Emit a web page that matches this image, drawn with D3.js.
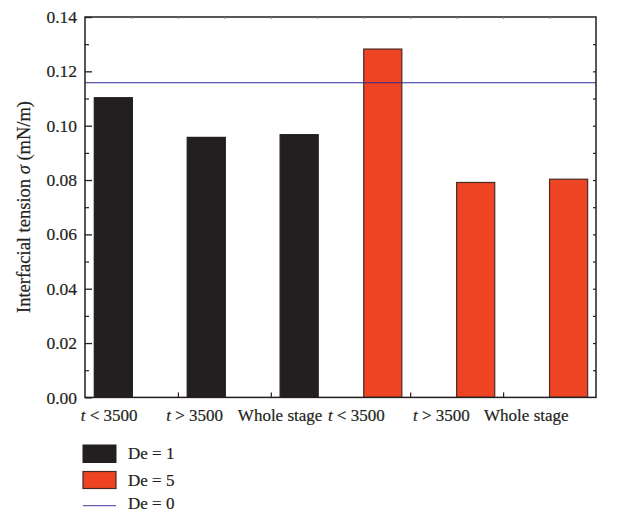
<!DOCTYPE html>
<html>
<head>
<meta charset="utf-8">
<script src="https://cdn.jsdelivr.net/npm/d3@7"></script>
<style>
  html, body { margin: 0; padding: 0; background: #fff; }
  svg { display: block; }
  text { font-family: "Liberation Serif", "Times New Roman", serif; fill: #231f20; }
</style>
</head>
<body>
<svg id="chart" width="629" height="514"></svg>
<script>
// ---- data ----
const stages = ["t < 3500", "t > 3500", "Whole stage"];
const categories = ["t < 3500", "t > 3500", "Whole stage", "t < 3500", "t > 3500", "Whole stage"];
const seriesNames = ["De = 1", "De = 5", "De = 0"];
const de1Values = [0.1103, 0.0957, 0.0967];
const de5Values = [0.1282, 0.0791, 0.0803];
const de0Value = 0.1158;
const yTicks = [0, 0.02, 0.04, 0.06, 0.08, 0.10, 0.12, 0.14];

(function () {
// ---- layout ----
const svg = d3.select("#chart");
const mLeft = 85, mRight = 596, mTop = 17, mBottom = 397.4;
const ink = "#231f20";
const colBlack = "#231f20", colRed = "#ef4423", colLine = "#2e2a90";

const x = d3.scaleLinear().domain([0, 11]).range([mLeft, mRight]);
const y = d3.scaleLinear().domain([0, 0.14]).range([mBottom, mTop]);

// bar positions (x units)
const barW = 0.82;
const bars = [];
de1Values.forEach((v, i) => bars.push({v, c: 0.61 + 2 * i, fill: colBlack, stroke: colBlack}));
de5Values.forEach((v, i) => bars.push({v, c: 6.41 + 2 * i, fill: colRed, stroke: "#4a2a26"}));

svg.append("g").selectAll("rect").data(bars).join("rect")
  .attr("x", d => x(d.c - barW / 2))
  .attr("width", d => x(d.c + barW / 2) - x(d.c - barW / 2))
  .attr("y", d => y(d.v))
  .attr("height", d => y(0) - y(d.v))
  .attr("fill", d => d.fill)
  .attr("stroke", d => d.stroke)
  .attr("stroke-width", 1.2);

// De = 0 reference line
svg.append("line")
  .attr("x1", x(0)).attr("x2", x(11))
  .attr("y1", y(de0Value)).attr("y2", y(de0Value))
  .attr("stroke", colLine).attr("stroke-width", 1.2);

// frame
svg.append("rect")
  .attr("x", mLeft).attr("y", mTop)
  .attr("width", mRight - mLeft).attr("height", mBottom - mTop)
  .attr("fill", "none").attr("stroke", ink).attr("stroke-width", 1.5);

// left axis (ticks inward)
const yMinor = d3.range(0.01, 0.14, 0.02);
const leftAxis = svg.append("g").attr("transform", `translate(${mLeft},0)`)
  .call(d3.axisRight(y).tickValues(yTicks).tickSize(7).tickFormat(""));
leftAxis.select(".domain").remove();
leftAxis.selectAll("line").attr("stroke", ink).attr("stroke-width", 1.3);
const leftMinor = svg.append("g").attr("transform", `translate(${mLeft},0)`)
  .call(d3.axisRight(y).tickValues(yMinor).tickSize(4).tickFormat(""));
leftMinor.select(".domain").remove();
leftMinor.selectAll("line").attr("stroke", ink).attr("stroke-width", 1.2);

// right axis (ticks inward)
const rightAxis = svg.append("g").attr("transform", `translate(${mRight},0)`)
  .call(d3.axisLeft(y).tickValues(d3.range(0.01, 0.14, 0.01)).tickSize(3).tickFormat(""));
rightAxis.select(".domain").remove();
rightAxis.selectAll("line").attr("stroke", ink).attr("stroke-width", 1.2);

// y tick labels
svg.append("g").selectAll("text").data(yTicks).join("text")
  .attr("x", 77).attr("y", d => y(d)).attr("dy", "0.35em")
  .attr("text-anchor", "end").attr("font-size", 17.5)
  .attr("stroke", "#231f20").attr("stroke-width", 0.2)
  .text(d => d.toFixed(2));

// top ticks (small, inward)
const topAxis = svg.append("g").attr("transform", `translate(0,${mTop})`)
  .call(d3.axisBottom(x).tickValues(d3.range(1, 11)).tickSize(2).tickFormat(""));
topAxis.select(".domain").remove();
topAxis.selectAll("line").attr("stroke", "#888").attr("stroke-width", 1);

// bottom ticks (inward)
const bottomAxis = svg.append("g").attr("transform", `translate(0,${mBottom})`)
  .call(d3.axisTop(x).tickValues([2, 4, 7, 9]).tickSize(5).tickFormat(""));
bottomAxis.select(".domain").remove();
bottomAxis.selectAll("line").attr("stroke", ink).attr("stroke-width", 1.2);

// x category labels
const labelPos = categories.map((c, i) => i < 3 ? 0.52 + 1.84 * i : 5.84 + 1.83 * (i - 3));
const xl = svg.append("g").selectAll("text").data(categories).join("text")
  .attr("x", (d, i) => x(labelPos[i])).attr("y", 420.5)
  .attr("text-anchor", "middle").attr("font-size", 17)
  .attr("stroke", "#231f20").attr("stroke-width", 0.2);
xl.each(function(d) {
  const t = d3.select(this);
  if (d.startsWith("t ")) {
    t.append("tspan").attr("font-style", "italic").text("t");
    t.append("tspan").text(d.slice(1));
  } else {
    t.text(d);
  }
});

// y axis title
const yt = svg.append("text")
  .attr("transform", "translate(30,207) rotate(-90)")
  .attr("text-anchor", "middle").attr("font-size", 18.5)
  .attr("stroke", "#231f20").attr("stroke-width", 0.2);
yt.append("tspan").text("Interfacial tension ");
yt.append("tspan").attr("font-style", "italic").text("σ");
yt.append("tspan").text(" (mN/m)");

// legend
const lg = svg.append("g");
lg.append("rect").attr("x", 83).attr("y", 445).attr("width", 33).attr("height", 17.5)
  .attr("fill", colBlack).attr("stroke", colBlack).attr("stroke-width", 1);
lg.append("rect").attr("x", 83).attr("y", 471.5).attr("width", 33).attr("height", 17)
  .attr("fill", colRed).attr("stroke", "#4a2a26").attr("stroke-width", 1.2);
lg.append("line").attr("x1", 83).attr("x2", 116).attr("y1", 505.7).attr("y2", 505.7)
  .attr("stroke", "#6a5fb0").attr("stroke-width", 1.2);
const lgY = [459.3, 486, 509.3];
lg.selectAll("text").data(seriesNames).join("text")
  .attr("x", 128).attr("y", (d, i) => lgY[i])
  .attr("font-size", 17).attr("stroke", "#231f20").attr("stroke-width", 0.2)
  .text(d => d);
})();
</script>
</body>
</html>
